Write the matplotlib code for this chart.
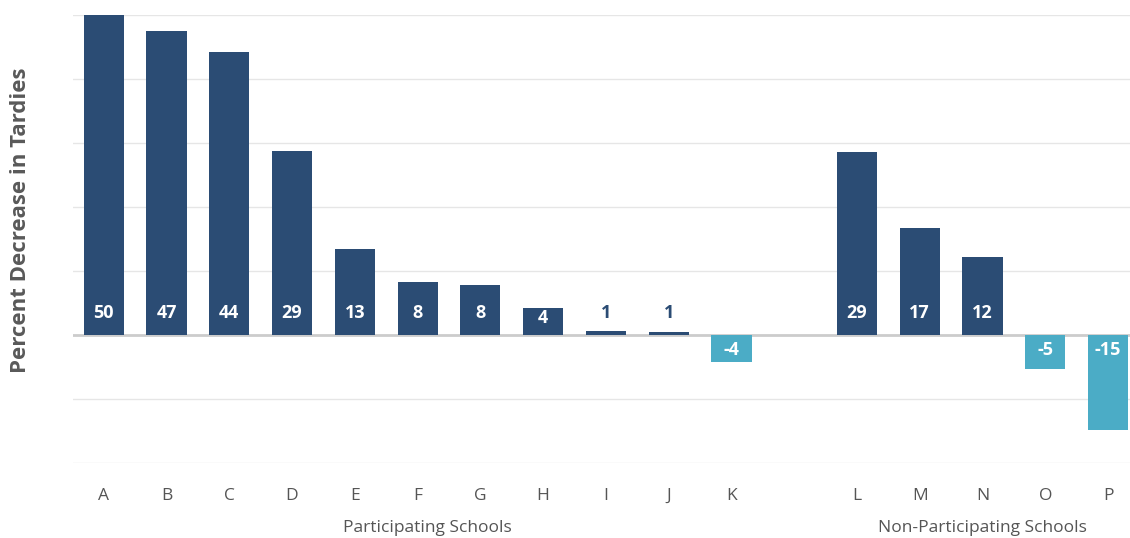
import matplotlib
matplotlib.use("Agg")
import matplotlib.pyplot as plt

# ---------------------------------------------------------------------------
# Data
# ---------------------------------------------------------------------------
participating = ["A", "B", "C", "D", "E", "F", "G", "H", "I", "J", "K"]
participating_vals = [50, 47.5, 44.2, 28.8, 13.4, 8.3, 7.8, 4.2, 0.6, 0.5, -4.2]
participating_labels = ["50", "47", "44", "29", "13", "8", "8", "4", "1", "1", "-4"]

non_participating = ["L", "M", "N", "O", "P"]
non_participating_vals = [28.6, 16.7, 12.2, -5.3, -14.8]
non_participating_labels = ["29", "17", "12", "-5", "-15"]

group_names = ["Participating Schools", "Non-Participating Schools"]

POS_COLOR = "#2B4C74"
NEG_COLOR = "#4BACC6"
FONT = ["Open Sans", "DejaVu Sans"]

plt.rcParams["font.family"] = FONT

# positions: one empty slot between the two groups
x_part = list(range(len(participating)))
x_non = [len(participating) + 1 + i for i in range(len(non_participating))]

xs = x_part + x_non
vals = participating_vals + non_participating_vals
labels = participating_labels + non_participating_labels
names = participating + non_participating

fig = plt.figure(figsize=(11.3, 5.38), dpi=100)
ax = fig.add_axes([0.0646, 0.1394, 0.9354, 0.8327])

colors = [POS_COLOR if v >= 0 else NEG_COLOR for v in vals]
ax.bar(xs, vals, width=0.64, color=colors, zorder=3)

PX_PER_UNIT = 6.4   # 64 px per 10 units at this size
PT_PER_PX = 0.72

for x, v, lab in zip(xs, vals, labels):
    if v >= 0:
        bar_px = v * PX_PER_UNIT
        if bar_px > 20:
            off_px = min(22, bar_px - 10)
            txt_color = "white"
        else:
            # tiny bars can't hold the label, so it sits above them
            off_px = 22
            txt_color = POS_COLOR
        ax.annotate(lab, (x, 0), xytext=(0, off_px * PT_PER_PX),
                    textcoords="offset points",
                    ha="center", va="center", color=txt_color,
                    fontsize=13, fontweight="bold", zorder=4)
    else:
        ax.annotate(lab, (x, 0), xytext=(0, -10.5), textcoords="offset points",
                    ha="center", va="center", color="white",
                    fontsize=13, fontweight="bold", zorder=4)

ax.set_xlim(-0.49, 16.35)
ax.set_ylim(-20, 50)
ax.set_yticks(range(-20, 51, 10))
ax.yaxis.grid(True, color="#E6E6E6", linewidth=1, zorder=0)
ax.axhline(0, color="#CCCCCC", linewidth=2, zorder=2)
ax.tick_params(axis="y", left=False, labelleft=False)
ax.set_xticks(xs)
ax.set_xticklabels(names, fontsize=12.5, color="#555555")
ax.tick_params(axis="x", length=0, pad=18)
for s in ax.spines.values():
    s.set_visible(False)

# group labels under the tick labels
ax.text(5.16, -0.145, group_names[0], transform=ax.get_xaxis_transform(),
        ha="center", va="center", fontsize=12.5, color="#555555")
ax.text(14, -0.145, group_names[1], transform=ax.get_xaxis_transform(),
        ha="center", va="center", fontsize=12.5, color="#555555")

fig.text(0.018, 0.59, "Percent Decrease in Tardies", rotation=90,
         ha="center", va="center", fontsize=16, fontweight="bold",
         color="#595959")

fig.savefig("out.png", dpi=100)
plt.close(fig)
